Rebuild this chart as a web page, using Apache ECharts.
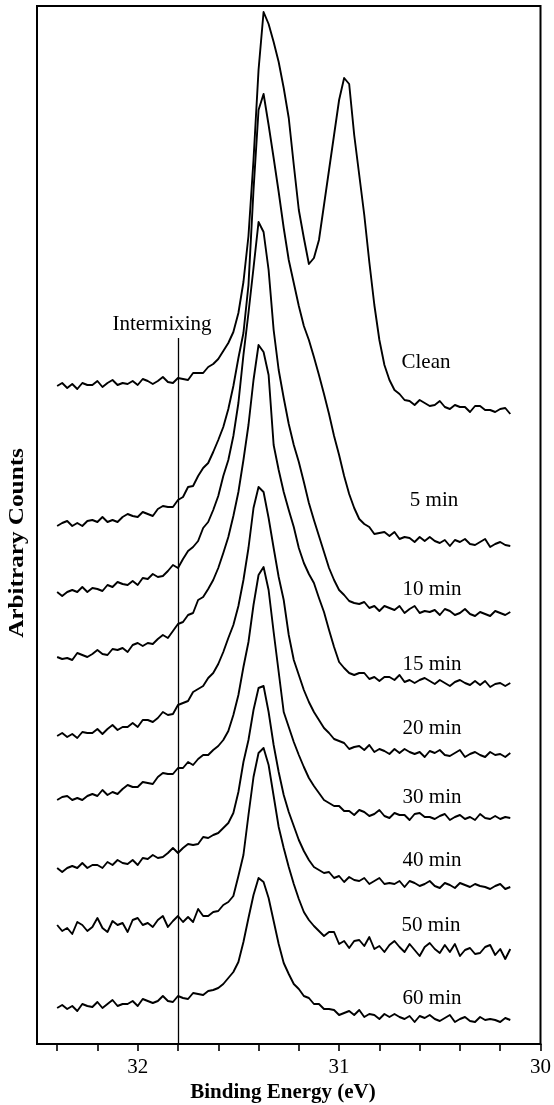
<!DOCTYPE html>
<html>
<head>
<meta charset="utf-8">
<script src="https://cdn.jsdelivr.net/npm/echarts@6/dist/echarts.min.js"></script>
<style>
html,body{margin:0;padding:0;background:#fff;}
#chart{width:554px;height:1105px;}
</style>
</head>
<body>
<div id="chart"></div>
<script>
// Binding energy grid (eV)
const energy = [32.4,32.375,32.35,32.325,32.3,32.275,32.25,32.225,32.2,32.175,32.15,32.125,32.1,32.075,32.05,32.025,32.0,31.975,31.95,31.925,31.9,31.875,31.85,31.825,31.8,31.775,31.75,31.725,31.7,31.675,31.65,31.625,31.6,31.575,31.55,31.525,31.5,31.475,31.45,31.425,31.4,31.375,31.35,31.325,31.3,31.275,31.25,31.225,31.2,31.175,31.15,31.125,31.1,31.075,31.05,31.025,31.0,30.975,30.95,30.925,30.9,30.875,30.85,30.825,30.8,30.775,30.75,30.725,30.7,30.675,30.65,30.625,30.6,30.575,30.55,30.525,30.5,30.475,30.45,30.425,30.4,30.375,30.35,30.325,30.3,30.275,30.25,30.225,30.2,30.175,30.15];

// Arbitrary counts (offset stacked spectra)
const clean = [658,661,656,660,655,661,659,659,663,657,661,664,659,661,660,663,659,665,663,660,663,667,662,661,666,665,664,671,671,671,677,680,685,693,701,712,731,762,808,884,974,1032,1020,1002,982,956,926,879,834,806,780,786,804,839,874,909,944,966,960,909,869,829,782,739,704,679,664,654,650,644,643,639,644,641,638,639,643,637,635,639,637,637,632,638,638,634,634,632,635,636,630];
const min5 = [518,521,523,518,521,518,523,524,522,527,522,524,522,527,530,528,527,532,530,528,535,538,537,537,544,547,557,558,568,576,581,592,604,617,635,658,686,711,759,854,934,950,919,886,852,816,784,761,738,718,704,687,669,650,630,608,589,568,550,536,525,520,517,510,511,512,508,512,505,507,506,502,507,503,507,503,501,504,498,504,502,505,500,499,502,505,497,500,502,499,498];
const min10 = [452,448,452,454,452,457,452,456,455,453,459,457,462,460,459,463,459,466,465,470,467,468,473,479,476,485,493,497,503,516,522,534,548,568,584,608,641,689,731,776,822,812,774,714,674,646,620,599,582,562,541,524,508,492,476,464,454,449,443,441,440,442,436,438,433,438,436,434,438,431,435,438,431,433,432,434,429,435,433,429,431,435,430,428,432,430,428,433,431,429,432];
const min15 = [387,385,386,384,391,389,387,390,394,390,389,395,394,396,392,399,401,398,401,400,405,409,406,413,420,422,429,431,444,447,455,464,476,491,507,528,552,584,619,664,699,692,669,599,574,552,534,517,496,481,470,461,446,432,414,397,382,376,371,369,371,371,365,367,363,367,367,364,369,362,364,361,364,366,363,360,364,361,358,362,364,361,359,363,359,363,357,360,361,358,361];
const min20 = [308,311,307,310,306,312,311,311,315,310,315,319,314,317,317,321,317,324,324,322,326,332,329,330,339,341,343,352,355,358,366,371,380,392,406,419,438,464,496,536,557,552,526,496,467,444,409,384,369,354,342,332,324,316,311,305,303,301,295,297,298,294,299,292,295,293,290,295,291,295,292,290,292,287,293,291,294,289,288,291,294,287,290,292,289,287,292,289,290,287,291];
const min30 = [244,247,248,244,246,244,248,250,248,254,249,252,250,255,259,257,257,262,261,260,267,271,270,270,276,276,282,279,285,289,289,294,298,304,313,329,349,377,402,439,469,477,454,412,372,332,317,302,289,277,266,258,251,244,241,238,238,233,233,229,234,232,228,230,234,228,226,231,229,229,224,230,231,227,227,225,228,230,224,227,229,225,227,224,230,226,225,228,225,227,226];
const min40 = [176,172,176,178,176,181,176,179,179,176,182,179,184,181,180,184,179,186,185,189,186,187,191,196,191,196,200,199,200,207,206,209,211,216,221,231,252,282,304,334,356,358,332,299,272,249,232,218,204,193,184,177,174,171,172,166,168,162,167,164,163,166,160,163,166,160,161,160,163,157,163,161,158,160,163,158,156,161,159,156,161,159,157,160,158,157,155,158,160,155,157];
const min50 = [119,113,116,110,122,119,113,117,126,116,112,123,119,121,112,124,126,119,121,117,124,128,117,123,128,122,127,122,135,128,128,132,133,139,142,148,168,189,229,267,291,296,279,248,217,196,177,160,145,132,124,118,113,108,112,112,100,103,96,103,104,98,107,95,98,92,99,103,97,92,100,94,88,97,101,95,91,99,92,100,88,94,96,90,91,97,99,89,95,85,95];
const min60 = [36,39,35,38,33,40,38,37,42,36,40,44,38,40,40,43,38,45,43,41,43,48,43,42,48,46,45,51,50,49,53,54,56,60,66,72,82,102,126,149,166,162,146,123,100,81,70,60,55,48,46,40,40,35,35,34,29,31,33,29,34,27,30,29,25,30,27,30,27,25,28,22,28,26,29,25,23,26,29,22,25,27,23,22,27,24,25,24,22,26,24];

const seriesNames = ['Clean','5 min','10 min','15 min','20 min','30 min','40 min','50 min','60 min'];
const seriesValues = [clean, min5, min10, min15, min20, min30, min40, min50, min60];

// Axis ticks / labels
const tickValues = [30,30.2,30.4,30.6,30.8,31,31.2,31.4,31.6,31.8,32,32.2,32.4];
const tickLabels = [30,31,32];

// Intermixing marker
const intermixEnergy = 31.8;
const intermixTop = 706;

const SERIF = '"Liberation Serif","Times New Roman",serif';

const chart = echarts.init(document.getElementById('chart'), null, {renderer:'canvas'});

const series = seriesValues.map((vals, k) => ({
  name: seriesNames[k],
  type: 'line',
  data: energy.map((e, i) => [e, vals[i]]),
  showSymbol: false,
  symbol: 'none',
  smooth: false,
  silent: true,
  lineStyle: {color:'#000', width:1.9, join:'round'},
  z: 3
}));

series[0].markLine = {
  silent: true,
  symbol: ['none','none'],
  label: {show:false},
  lineStyle: {color:'#000', width:1.3, type:'solid'},
  data: [[{coord:[intermixEnergy, intermixTop]}, {coord:[intermixEnergy, 0]}]]
};

const labelPos = [
  [426, 362],[434, 500],[432, 589],[432, 664],[432, 728],[432, 797],[432, 860],[431, 925],[432, 998]
];

const graphics = seriesNames.map((n, k) => ({
  type:'text',
  x: labelPos[k][0], y: labelPos[k][1],
  silent:true,
  style:{text:n, fill:'#000', font:'21px ' + SERIF, align:'center', verticalAlign:'middle'}
}));
graphics.push({
  type:'text', x:162, y:324, silent:true,
  style:{text:'Intermixing', fill:'#000', font:'21px ' + SERIF, align:'center', verticalAlign:'middle'}
});
graphics.push({
  type:'text', x:283, y:1093, silent:true,
  style:{text:'Binding Energy (eV)', fill:'#000', font:'bold 21px ' + SERIF, align:'center', verticalAlign:'middle'}
});
graphics.push({
  type:'text', x:18, y:543, rotation: Math.PI/2, scaleX:1.26, silent:true,
  style:{text:'Arbitrary Counts', fill:'#000', font:'bold 20px ' + SERIF, align:'center', verticalAlign:'middle'}
});

chart.setOption({
  animation:false,
  backgroundColor:'#fff',
  grid:{left:37, right:13, top:6, bottom:61, show:true, borderColor:'#000', borderWidth:2, backgroundColor:'transparent'},
  xAxis:{
    type:'value', min:30, max:32.5, inverse:true, position:'bottom',
    axisLine:{show:true, onZero:false, lineStyle:{color:'#000', width:2}},
    axisTick:{show:true, inside:false, length:7, lineStyle:{color:'#000', width:1.6}, customValues: tickValues},
    axisLabel:{show:true, color:'#000', fontSize:21, fontFamily:SERIF, margin:13, customValues: tickLabels, formatter: v => String(v)},
    splitLine:{show:false}
  },
  yAxis:{type:'value', min:0, max:1038, show:false, splitLine:{show:false}},
  series: series,
  graphic: graphics
});
</script>
</body>
</html>
